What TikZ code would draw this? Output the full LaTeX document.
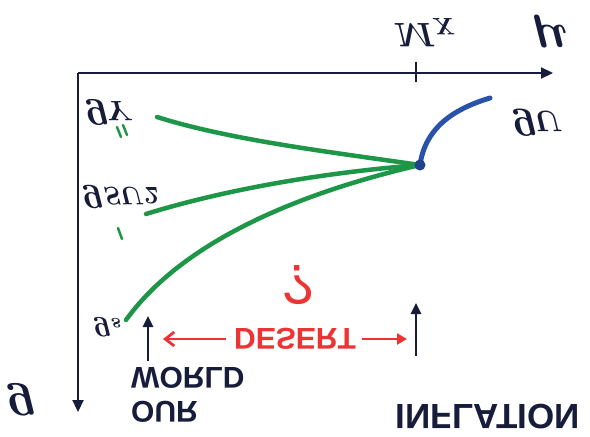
\documentclass[tikz,border=0pt]{standalone}
\usepackage{fix-cm}
\usepackage{amsmath,amssymb}
\usepackage{fontspec}
\setsansfont{Liberation Sans}
\usepackage{tikz}
\usetikzlibrary{arrows.meta,calc}
\definecolor{inkblue}{RGB}{22,28,58}
\definecolor{runblue}{RGB}{40,82,172}
\definecolor{rungreen}{RGB}{30,150,72}
\definecolor{desertred}{RGB}{236,52,52}

\begin{document}
\begin{tikzpicture}[
  x=1pt,y=1pt,yscale=-1,transform shape,
  axis/.style={draw=inkblue,line width=2.2pt,-{Triangle[length=12pt,width=11pt]}},
  run/.style={draw=rungreen,line width=4.5pt,line cap=round},
  unified/.style={draw=runblue,line width=5pt,line cap=round},
  tally/.style={draw=rungreen,line width=2.5pt,line cap=round},
  pointer/.style={draw=inkblue,line width=2.5pt,-{Triangle[length=11pt,width=10pt]}},
  redarrow/.style={draw=desertred,line width=2.8pt},
  mathlbl/.style={text=inkblue,inner sep=0pt},
  handtext/.style={font=\sffamily\bfseries\fontsize{30}{34}\selectfont,inner sep=0pt}
]
\useasboundingbox (0,0) rectangle (590,437);

% axes
\coordinate (origin) at (78,73);
\coordinate (muend) at (553,73);
\coordinate (gend) at (78,412);
\draw[axis] (origin) -- (muend);
\draw[axis] (origin) -- (gend);
\node[mathlbl,font=\fontsize{50}{60}\selectfont\boldmath] (mu) at (550,32) {$\mu$};
\node[mathlbl,font=\fontsize{50}{60}\selectfont\boldmath] (g) at (22,400) {$g$};

% unification scale
\coordinate (ticktop) at (416,62);
\coordinate (tickbot) at (416,82);
\draw[draw=inkblue,line width=2.5pt] (ticktop) -- (tickbot);
\node[mathlbl,font=\fontsize{34}{40}\selectfont\boldmath] (mx) at (425,33) {$M_X$};

% running couplings
\coordinate (meet) at (420,165);
\coordinate (gtop) at (157,117);
\coordinate (gmid) at (146,214);
\coordinate (gbot) at (126,320);
\coordinate (unend) at (490,98);
\draw[run] (gtop) .. controls (230,140) and (330,152) .. (meet);
\draw[run] (gmid) .. controls (230,188) and (330,172) .. (meet);
\draw[run] (gbot) .. controls (180,245) and (290,195) .. (meet);
\draw[unified] (meet) .. controls (425,130) and (450,110) .. (unend);
\fill[runblue!80!black] (meet) circle (5.5pt);

\node[mathlbl,font=\fontsize{40}{48}\selectfont\boldmath] (gy) at (110,112) {$g_Y$};
\node[mathlbl,font=\fontsize{36}{48}\selectfont\boldmath] (gsu) at (121,197) {$g_{SU2}$};
\node[mathlbl,font=\fontsize{30}{38}\selectfont\boldmath] (gs) at (108,327) {$g_s$};
\node[mathlbl,font=\fontsize{42}{50}\selectfont\boldmath] (gu) at (538,123) {$g_U$};

% tally marks
\draw[tally] (117,127) -- (121,137);
\draw[tally] (123,125) -- (127,135);
\draw[tally] (118,228) -- (122,239);

% desert
\node[handtext,text=desertred,font=\sffamily\fontsize{56}{62}\selectfont] (quest) at (298,285) {?};
\node[handtext,text=desertred] (desert) at (295,339) {DESERT};
\draw[redarrow,-{Straight Barb[length=9pt,width=14pt]}] (desert.west) ++(-8,0) coordinate (dl) -- (163,339);
\draw[redarrow,-{Triangle[length=10pt,width=11pt]}] (desert.east) ++(6,0) coordinate (dr) -- (407,339);

% pointers
\node[handtext,text=inkblue,align=left,anchor=west] (world) at (131,395) {OUR\\WORLD};
\node[handtext,text=inkblue,font=\sffamily\bfseries\fontsize{35}{40}\selectfont] (infl) at (488,417) {INFLATION};
\coordinate (lowend) at (148,361);
\coordinate (lowtip) at (148,316);
\coordinate (highend) at (416,356);
\coordinate (hightip) at (416,303);
\draw[pointer] (lowend) -- (lowtip);
\draw[pointer] (highend) -- (hightip);

\end{tikzpicture}
\end{document}
